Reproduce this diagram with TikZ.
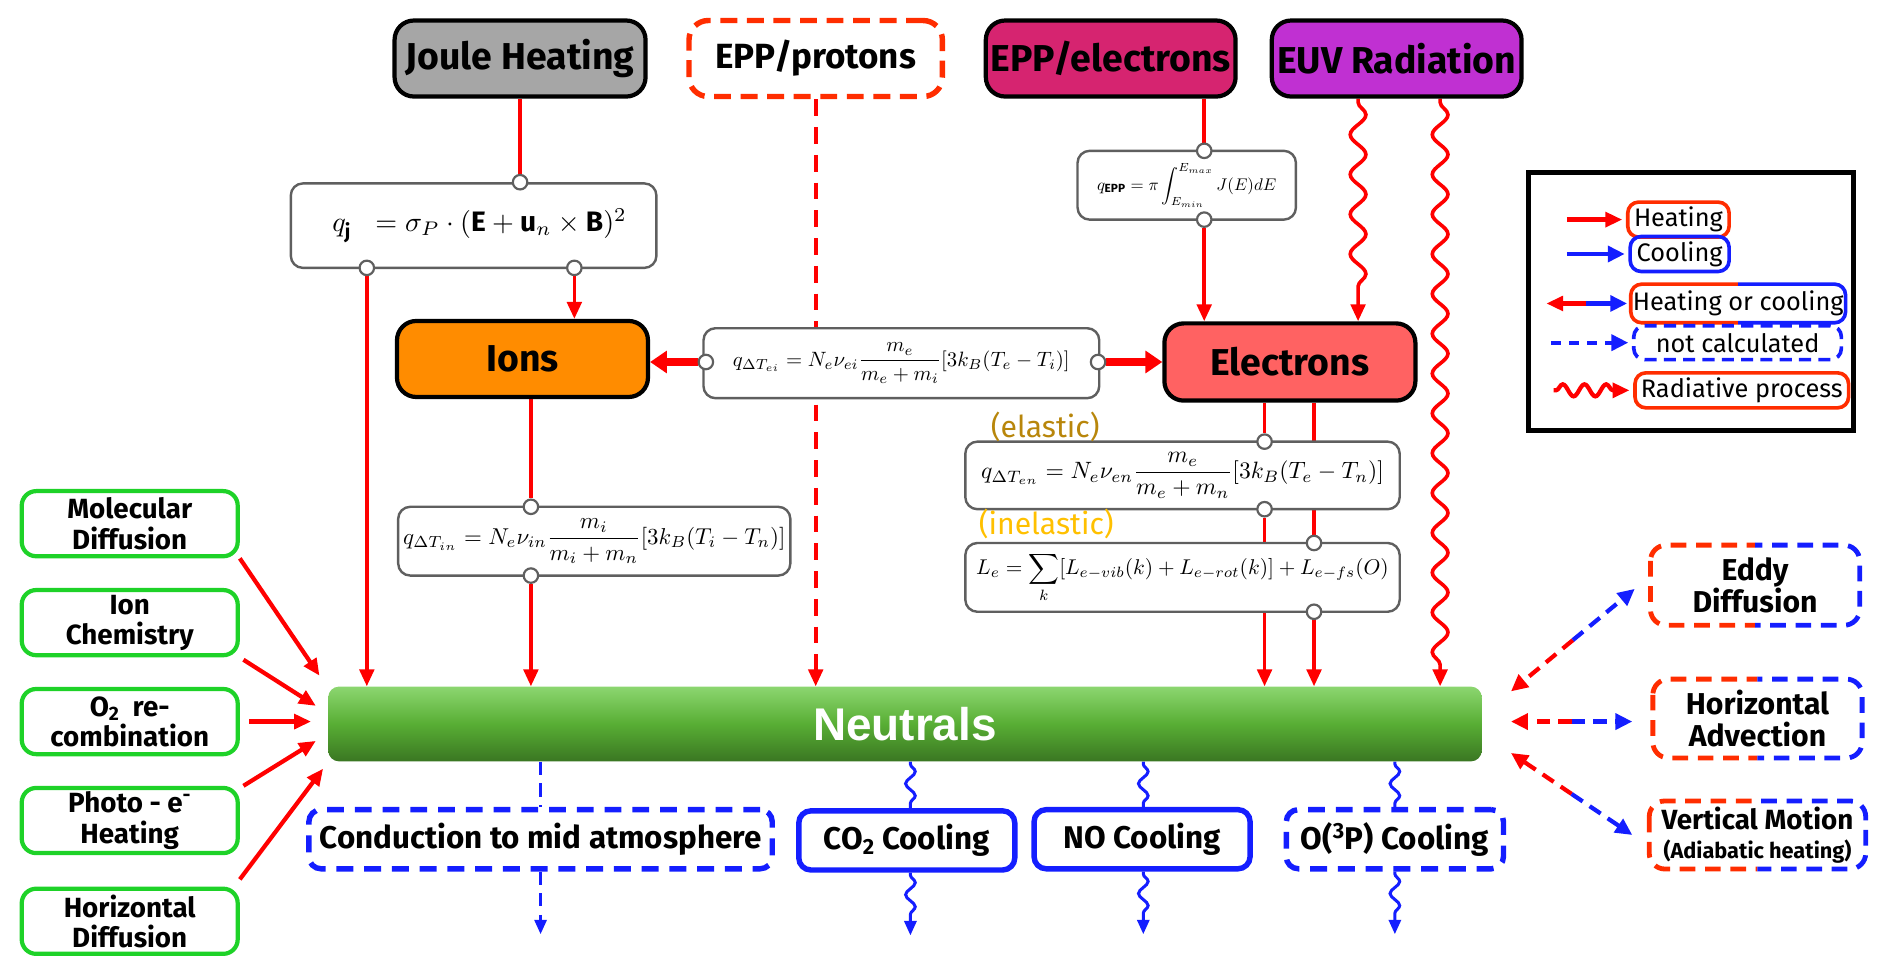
\documentclass[tikz,border=0pt]{standalone}
\usepackage{amsmath}
\usepackage{graphicx}
\usepackage{fontspec}
\setmainfont{Fira Sans}
\newfontfamily\arialfont{Liberation Sans}
\usetikzlibrary{arrows.meta,calc,decorations.pathmorphing}
\pgfdeclarelayer{background}
\pgfsetlayers{background,main}
\definecolor{hred}{RGB}{255,0,0}
\definecolor{bred}{RGB}{255,45,0}
\definecolor{cblue}{RGB}{20,30,255}
\definecolor{gbord}{RGB}{30,210,40}
\definecolor{jgray}{RGB}{166,166,166}
\definecolor{eppmag}{RGB}{214,36,112}
\definecolor{euvpur}{RGB}{192,48,210}
\definecolor{ionorg}{RGB}{255,140,0}
\definecolor{elecred}{RGB}{255,98,98}
\definecolor{fgray}{RGB}{95,95,95}
\definecolor{elgold}{RGB}{184,134,11}
\definecolor{inelgold}{RGB}{255,192,0}
\definecolor{ngtop}{RGB}{140,214,112}
\definecolor{ngmid}{RGB}{88,174,52}
\definecolor{ngbot}{RGB}{58,118,34}
\newcommand{\splitframe}[2]{%
  \begin{scope}
    \clip ($(#1.north west)+(-10,-10)$) rectangle ($(#1.south)+(0,10)$);
    \draw[draw=bred, line width=4pt, rounded corners=13pt, #2] (#1.north west) rectangle (#1.south east);
  \end{scope}
  \begin{scope}
    \clip ($(#1.north)+(0,-10)$) rectangle ($(#1.south east)+(10,10)$);
    \draw[draw=cblue, line width=4pt, rounded corners=13pt, #2] (#1.north west) rectangle (#1.south east);
  \end{scope}}
\begin{document}
\begin{tikzpicture}[x=1pt,y=-1pt,
  header/.style={draw=black, line width=3.5pt, rounded corners=16pt, inner sep=0pt, font=\fontsize{31}{35}\selectfont\bfseries},
  formula/.style={draw=fgray, line width=2pt, rounded corners=10pt, fill=white, inner sep=0pt, font=\fontsize{10}{12}\selectfont},
  port/.style={circle, draw=fgray, fill=white, line width=1.8pt, minimum size=12pt, inner sep=0pt},
  greenbox/.style={draw=gbord, line width=3.5pt, rounded corners=12pt, fill=white, inner sep=0pt, minimum width=179pt, minimum height=54pt, align=center, font=\fontsize{23}{25}\selectfont\bfseries},
  splitbox/.style={inner sep=0pt, align=center, font=\fontsize{25}{27}\selectfont\bfseries},
  coolbox/.style={draw=cblue, line width=4.5pt, rounded corners=10pt, inner sep=0pt, minimum height=49pt, font=\fontsize{26}{30}\selectfont\bfseries},
  dashframe/.style={dash pattern=on 14pt off 9pt},
  legbox/.style={line width=3pt, rounded corners=9pt, inner sep=0pt, minimum height=29pt, font=\fontsize{21}{24}\selectfont},
  redln/.style={draw=hred, line width=3pt},
  redar/.style={redln, -{Triangle[length=14pt,width=12pt]}},
  redthick/.style={draw=hred, line width=6pt, -{Triangle[length=14pt,width=18pt]}},
  reddash/.style={redar, dash pattern=on 14pt off 9pt},
  radwave/.style={decorate, decoration={snake, amplitude=6.5pt, segment length=33pt, pre length=3pt, post length=14pt}},
  blueln/.style={draw=cblue, line width=2.5pt},
  bluear/.style={blueln, -{Triangle[length=12pt,width=10pt]}},
  smallwave/.style={decorate, decoration={snake, amplitude=4pt, segment length=20pt, pre length=2pt, post length=2pt}},
  smallwavear/.style={decorate, decoration={snake, amplitude=4pt, segment length=20pt, pre length=2pt, post length=11pt}},
  dredar/.style={draw=hred, line width=3.5pt, dash pattern=on 11pt off 7pt, -{Triangle[length=14pt,width=13pt]}},
  dbluear/.style={draw=cblue, line width=3.5pt, dash pattern=on 11pt off 7pt, -{Triangle[length=14pt,width=13pt]}}
]
\useasboundingbox (0,0) rectangle (1568,808);

% top sources
\node[header, fill=jgray, minimum width=208pt, minimum height=63pt] (joule) at (431,48.5) {Joule Heating};
\node[header, draw=bred, dash pattern=on 14pt off 8pt, line width=4.5pt, fill=white, minimum width=210pt, minimum height=63pt, font=\fontsize{29}{33}\selectfont\bfseries] (eppp) at (676,48.5) {EPP/protons};
\node[header, fill=eppmag, minimum width=207pt, minimum height=63pt] (eppe) at (920.5,48.5) {EPP/electrons};
\node[header, fill=euvpur, minimum width=207pt, minimum height=63pt] (euv) at (1157.5,48.5) {EUV Radiation};

% formula boxes
\node[formula, minimum width=303pt, minimum height=70pt] (qj) at (392.5,187) {\hspace*{10pt}\scalebox{2.33}{$q_{\mathbf{j}}\;\;=\sigma_P\cdot(\mathbf{E}+\mathbf{u}_n\times\mathbf{B})^2$}};
\node[formula, minimum width=181pt, minimum height=57pt] (qepp) at (983.5,153.5) {\scalebox{1.4}{$q_{\mathbf{EPP}}=\pi\displaystyle\int_{E_{min}}^{E_{max}}J(E)dE$}};
\node[formula, minimum width=328pt, minimum height=58pt] (qei) at (747,301) {\scalebox{1.72}{$q_{\Delta T_{ei}}=N_e\nu_{ei}\dfrac{m_e}{m_e+m_i}[3k_B(T_e-T_i)]$}};
\node[formula, minimum width=325pt, minimum height=57pt] (qin) at (492.5,448.5) {\scalebox{1.9}{$q_{\Delta T_{in}}=N_e\nu_{in}\dfrac{m_i}{m_i+m_n}[3k_B(T_i-T_n)]$}};
\node[formula, minimum width=360pt, minimum height=56pt] (qen) at (980,394) {\scalebox{1.96}{$q_{\Delta T_{en}}=N_e\nu_{en}\dfrac{m_e}{m_e+m_n}[3k_B(T_e-T_n)]$}};
\node[formula, minimum width=360pt, minimum height=57pt] (le) at (980,478.5) {\scalebox{1.77}{$L_e=\displaystyle\sum_k[L_{e-vib}(k)+L_{e-rot}(k)]+L_{e-fs}(O)$}};
\node[anchor=south west, inner sep=0pt, text=elgold, font=\fontsize{25}{28}\selectfont] (elab) at ($(qen.north west)+(22,1)$) {(elastic)};
\node[anchor=south west, inner sep=0pt, text=inelgold, font=\fontsize{25}{28}\selectfont] (ilab) at ($(le.north west)+(12,-2)$) {(inelastic)};

% species
\node[header, fill=ionorg, minimum width=208pt, minimum height=63pt] (ions) at (433,297.5) {Ions};
\node[header, fill=elecred, minimum width=208pt, minimum height=64pt] (elec) at (1069,300) {Electrons};
\node[rounded corners=9pt, top color=ngtop, bottom color=ngbot, middle color=ngmid, minimum width=956pt, minimum height=62pt, inner sep=0pt, text=white, font=\fontsize{38}{40}\arialfont\bfseries] (neut) at (750,600) {Neutrals};

% left boxes
\node[greenbox] (mol) at (107.5,434) {Molecular\\Diffusion};
\node[greenbox] (ionch) at (107.5,516) {Ion\\Chemistry};
\node[greenbox] (otwo) at (107.5,598) {O\textsubscript{2}\ \ re-\\combination};
\node[greenbox] (photo) at (107.5,680) {Photo - e\textsuperscript{-}\\Heating};
\node[greenbox] (hdiff) at (107.5,763.5) {Horizontal\\Diffusion};

% right boxes
\node[splitbox, minimum width=173pt, minimum height=66pt] (eddy) at (1454.5,485) {Eddy\\Diffusion};
\node[splitbox, minimum width=173pt, minimum height=65pt] (hadv) at (1456.5,595.5) {Horizontal\\Advection};
\node[splitbox, minimum width=179pt, minimum height=56pt, font=\fontsize{23}{24}\selectfont\bfseries] (vert) at (1456.5,692) {Vertical Motion\\{\fontsize{18}{20}\selectfont(Adiabatic heating)}};
\splitframe{eddy}{dash pattern=on 13pt off 8pt}
\splitframe{hadv}{dash pattern=on 13pt off 8pt}
\splitframe{vert}{dash pattern=on 13pt off 8pt}

% bottom boxes
\node[coolbox, dashframe, minimum width=384pt] (cond) at (448,695.5) {Conduction to mid atmosphere};
\node[coolbox, minimum width=179pt] (cotwo) at (751.5,696.5) {CO\textsubscript{2} Cooling};
\node[coolbox, minimum width=179pt] (nocool) at (946.5,695.5) {NO Cooling};
\node[coolbox, dashframe, minimum width=180pt] (othree) at (1156,695.5) {O(\textsuperscript{3}P) Cooling};

% legend
\node[draw=black, line width=4pt, minimum width=269pt, minimum height=214pt, inner sep=0pt] (legend) at (1401.5,250) {};
\node[legbox, draw=bred, minimum width=84pt] (lheat) at (1391,182) {Heating};
\node[legbox, draw=cblue, minimum width=82pt] (lcool) at (1392,210.5) {Cooling};
\node[legbox, minimum width=175pt] (lhc) at (1440.5,251.5) {Heating or cooling};
\splitframe{lhc}{line width=3pt, rounded corners=9pt}
\node[legbox, draw=cblue, dash pattern=on 10pt off 6pt, minimum width=172pt, minimum height=28pt] (lnc) at (1440,284) {not calculated};
\node[legbox, draw=bred, minimum width=177pt] (lrad) at (1443.5,323.5) {Radiative process};

% ports
\node[port] (pj) at (joule.south |- qj.north) {};
\node[port] (pq1) at (304,222) {};
\node[port] (pq2) at (476,222) {};
\node[port] (pe1) at (998,125) {};
\node[port] (pe2) at (998,182) {};
\node[port] (pei1) at (585,300) {};
\node[port] (pei2) at (910,300) {};
\node[port] (pin1) at (440,420) {};
\node[port] (pin2) at (440,477) {};
\node[port] (pen1) at (1048,366) {};
\node[port] (pen2) at (1048,422) {};
\node[port] (pl1) at (1089,450) {};
\node[port] (pl2) at (1089,507) {};

\coordinate (w1) at ($(euv.south)+(-32,0)$);
\coordinate (w2) at ($(euv.south)+(36,0)$);
\coordinate (cend) at ($(cond.south)+(0,52)$);
\coordinate (coend) at ($(cotwo.south)+(3,52)$);
\coordinate (noend) at ($(nocool.south)+(1,52)$);
\coordinate (oend) at ($(othree.south)+(0,52)$);

\begin{pgfonlayer}{background}
\draw[redln] (joule.south) -- (pj);
\draw[redar] (pq1) -- (pq1 |- neut.north);
\draw[redar] (pq2) -- (pq2 |- ions.north);
\draw[reddash] (eppp.south) -- (eppp.south |- neut.north);
\draw[redln] (pe1 |- eppe.south) -- (pe1);
\draw[redar] (pe2) -- (pe2 |- elec.north);
\draw[redar, radwave] (w1) -- (w1 |- elec.north);
\draw[redar, radwave] (w2) -- (w2 |- neut.north);
\draw[redthick] (pei1) -- (pei1 -| ions.east);
\draw[redthick] (pei2) -- (pei2 -| elec.west);
\draw[redln] (pin1 |- ions.south) -- (pin1);
\draw[redar] (pin2) -- (pin2 |- neut.north);
\draw[redln] (pen1 |- elec.south) -- (pen1);
\draw[redar] (pen2) -- (pen2 |- neut.north);
\draw[redln] (pl1 |- elec.south) -- (pl1);
\draw[redar] (pl2) -- (pl2 |- neut.north);
% left inputs
\draw[redar, line width=3.5pt] (mol.south east) -- ($(neut.west)+(-7,-40)$);
\draw[redar, line width=3.5pt] ($(ionch.south east)+(3,2)$) -- ($(neut.west)+(-10,-15)$);
\draw[redar, line width=3.5pt] ($(otwo.east)+(8,0)$) -- ($(neut.west)+(-14,-2)$);
\draw[redar, line width=3.5pt] ($(photo.north east)+(3,0)$) -- ($(neut.west)+(-10,14)$);
\draw[redar, line width=3.5pt] ($(hdiff.north east)+(0,-6)$) -- ($(neut.west)+(-4,37)$);
% bottom outputs
\draw[blueln, dash pattern=on 11pt off 7pt] (cond.north |- neut.south) -- (cond.north);
\draw[bluear, dash pattern=on 11pt off 7pt] (cond.south) -- (cend);
\draw[blueln, smallwave] ($(cotwo.north |- neut.south)+(3,0)$) -- ($(cotwo.north)+(3,0)$);
\draw[bluear, smallwavear] ($(cotwo.south)+(3,0)$) -- (coend);
\draw[blueln, smallwave] ($(nocool.north |- neut.south)+(1,0)$) -- ($(nocool.north)+(1,0)$);
\draw[bluear, smallwavear] ($(nocool.south)+(1,0)$) -- (noend);
\draw[blueln, smallwave] (othree.north |- neut.south) -- (othree.north);
\draw[bluear, smallwavear] (othree.south) -- (oend);
\end{pgfonlayer}

% right exchanges
\coordinate (ea) at ($(neut.east)+(24,-27)$);
\coordinate (eb) at ($(eddy.west)+(-13,3)$);
\coordinate (ha) at ($(neut.east)+(24,-2)$);
\coordinate (hb) at ($(hadv.west)+(-17,2.5)$);
\coordinate (va) at ($(neut.east)+(24,24)$);
\coordinate (vb) at ($(vert.west)+(-14,0)$);
\draw[dredar] ($(ea)!0.5!(eb)$) -- (ea);
\draw[dbluear] ($(ea)!0.5!(eb)$) -- (eb);
\draw[dredar] ($(ha)!0.5!(hb)$) -- (ha);
\draw[dbluear] ($(ha)!0.5!(hb)$) -- (hb);
\draw[dredar] ($(va)!0.5!(vb)$) -- (va);
\draw[dbluear] ($(va)!0.5!(vb)$) -- (vb);

% legend arrows
\coordinate (lh0) at ($(lheat.west)+(-49,0)$);
\coordinate (lc0) at ($(lcool.west)+(-51,0)$);
\coordinate (lhc0) at ($(lhc.west)+(-70,0)$);
\coordinate (lhcm) at ($(lhc.west)+(-37,0)$);
\coordinate (ln0) at ($(lnc.west)+(-67,0)$);
\coordinate (lr0) at ($(lrad.west)+(-66,0)$);
\draw[redar, line width=3.5pt, shorten >=3pt] (lh0) -- (lheat.west);
\draw[bluear, line width=3.5pt, -{Triangle[length=14pt,width=13pt]}, shorten >=3pt] (lc0) -- (lcool.west);
\draw[redar, line width=3.5pt] (lhcm) -- (lhc0);
\draw[bluear, line width=3.5pt, -{Triangle[length=14pt,width=13pt]}, shorten >=3pt] (lhcm) -- (lhc.west);
\draw[bluear, line width=3.5pt, dash pattern=on 8pt off 7pt, -{Triangle[length=14pt,width=13pt]}, shorten >=3pt] (ln0) -- (lnc.west);
\draw[redar, line width=3.5pt, decorate, decoration={snake, amplitude=5pt, segment length=18pt, pre length=2pt, post length=13pt}, shorten >=3pt] (lr0) -- (lrad.west);
\end{tikzpicture}
\end{document}
